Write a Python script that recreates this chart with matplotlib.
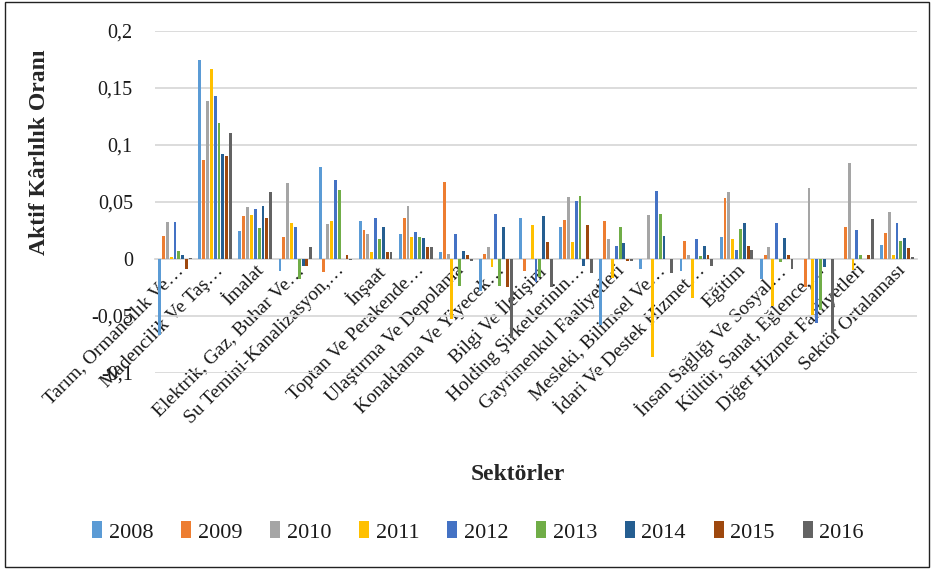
import matplotlib
matplotlib.use("Agg")
import matplotlib.pyplot as plt
import numpy as np
from matplotlib.ticker import FuncFormatter, MultipleLocator
from matplotlib.patches import Rectangle

categories = [
    "Tarım, Ormancılık Ve…", "Madencilik Ve Taş…", "İmalat",
    "Elektrik, Gaz, Buhar Ve…", "Su Temini-Kanalizasyon,…", "İnşaat",
    "Toptan Ve Perakende…", "Ulaştırma Ve Depolama", "Konaklama Ve Yiyecek…",
    "Bilgi Ve İletişim", "Holding Şirketlerinin…", "Gayrimenkul Faaliyetleri",
    "Mesleki, Bilimsel Ve…", "İdari Ve Destek Hizmet…", "Eğitim",
    "İnsan Sağlığı Ve Sosyal…", "Kültür, Sanat, Eğlence,…",
    "Diğer Hizmet Faaliyetleri", "Sektör Ortalaması",
]
years = ["2008", "2009", "2010", "2011", "2012", "2013", "2014", "2015", "2016"]

v2008 = [-0.067, 0.175, 0.025, -0.0105, 0.081, 0.033, 0.0216, 0.0058, -0.0278, 0.0363,
         0.0284, -0.0579, -0.0085, -0.0105, 0.0193, -0.0173, 0.0, 0.0, 0.0126]
v2009 = [0.020, 0.0868, 0.0374, 0.0193, -0.0117, 0.0254, 0.0363, 0.0678, 0.0047, -0.0105,
         0.0342, 0.033, 0.0, 0.016, 0.0532, 0.0035, -0.0243, 0.0284, 0.0228]
v2010 = [0.0327, 0.1386, 0.0453, 0.0664, 0.0307, 0.0216, 0.0465, 0.0047, 0.0102, 0.0,
         0.0544, 0.0173, 0.0386, 0.0035, 0.0588, 0.0105, 0.062, 0.0845, 0.041]
v2011 = [0.0015, 0.1667, 0.0386, 0.0319, 0.033, 0.0058, 0.0193, -0.0526, -0.0067, 0.0295,
         0.0149, -0.0164, -0.0863, -0.0345, 0.0173, -0.041, -0.049, -0.0096, 0.0035]
v2012 = [0.0327, 0.1433, 0.0442, 0.0284, 0.069, 0.0363, 0.024, 0.0216, 0.0398, -0.0199,
         0.0509, 0.0114, 0.060, 0.0173, 0.0082, 0.0319, -0.0564, 0.0251, 0.0319]
v2013 = [0.007, 0.1196, 0.0272, -0.0173, 0.0602, 0.0173, 0.0193, -0.0234, -0.0234, -0.0155,
         0.0556, 0.0284, 0.0398, 0.0023, 0.026, -0.003, -0.0447, 0.0035, 0.016]
v2014 = [0.0035, 0.0924, 0.0465, -0.0061, 0.0, 0.0284, 0.0181, 0.007, 0.0284, 0.0374,
         -0.0061, 0.0137, 0.0205, 0.0114, 0.0319, 0.0181, -0.0073, 0.0, 0.0181]
v2015 = [-0.0088, 0.0904, 0.0363, -0.0061, 0.0038, 0.006, 0.0102, 0.0035, -0.0246, 0.0149,
         0.0295, -0.002, 0.0, 0.0035, 0.0114, 0.0035, 0.0, 0.0035, 0.0094]
v2016 = [0.001, 0.1105, 0.0588, 0.0105, -0.001, 0.006, 0.0102, -0.002, -0.069, -0.0243,
         -0.012, -0.002, -0.012, -0.006, 0.0082, -0.0085, -0.0646, 0.0351, 0.0015]

series = [v2008, v2009, v2010, v2011, v2012, v2013, v2014, v2015, v2016]
colors = ["#5B9BD5", "#ED7D31", "#A5A5A5", "#FFC000", "#4472C4",
          "#70AD47", "#255E91", "#9E480E", "#636363"]

plt.rcParams['font.family'] = ['Liberation Serif', 'DejaVu Serif']

fig = plt.figure(figsize=(9.37, 5.72), dpi=100)
ax = fig.add_axes([155/937, 1-373/572, (917-155)/937, (373-31)/572])

x = np.arange(len(categories))
slot = 0.096
for i, (vals, c, yr) in enumerate(zip(series, colors, years)):
    offs = (i - 4) * slot
    ax.bar(x + offs, vals, width=slot*0.75, color=c, label=yr, zorder=3)

ax.set_xlim(-0.5, len(categories) - 0.5)
ax.set_ylim(-0.1, 0.2)
ax.yaxis.set_major_locator(MultipleLocator(0.05))
ax.yaxis.set_major_formatter(FuncFormatter(lambda v, p: ("%g" % round(v, 4)).replace('.', ',')))
ax.grid(axis='y', color='#D9D9D9', lw=1.3, zorder=0)
for s in ['top', 'right', 'left']:
    ax.spines[s].set_visible(False)
ax.spines['bottom'].set_position(('data', 0))
ax.spines['bottom'].set_color('#D9D9D9')
ax.spines['bottom'].set_linewidth(1.3)
ax.spines['bottom'].set_zorder(2)
ax.tick_params(axis='y', length=0, pad=16, labelsize=14.5, labelcolor='#1a1a1a')
ax.tick_params(axis='x', length=0, pad=2)
ax.set_xticks(x)
ax.set_xticklabels(categories, rotation=45, ha='right', va='top',
                   rotation_mode='anchor', fontsize=14, color='#1a1a1a')

fig.text(40/937, 1-152/572, "Aktif Kârlılık Oranı", rotation=90, ha='center', va='center',
         fontsize=17, fontweight='bold', color='#262626')
fig.text(518/937, 1-474/572, "Sektörler", ha='center', va='center', fontsize=17,
         fontweight='bold', color='#262626')

fig.legend(loc='center', bbox_to_anchor=(478/937, 1-532/572), ncol=9, frameon=False,
           fontsize=16, handlelength=0.45, handleheight=0.8, handletextpad=0.3,
           columnspacing=1.25, labelcolor='#1a1a1a')

fig.patches.append(Rectangle((5/937, 5/572), 924/937, 565/572, transform=fig.transFigure,
                             fill=False, edgecolor='#222222', lw=1))

fig.savefig("out.png", dpi=100)
